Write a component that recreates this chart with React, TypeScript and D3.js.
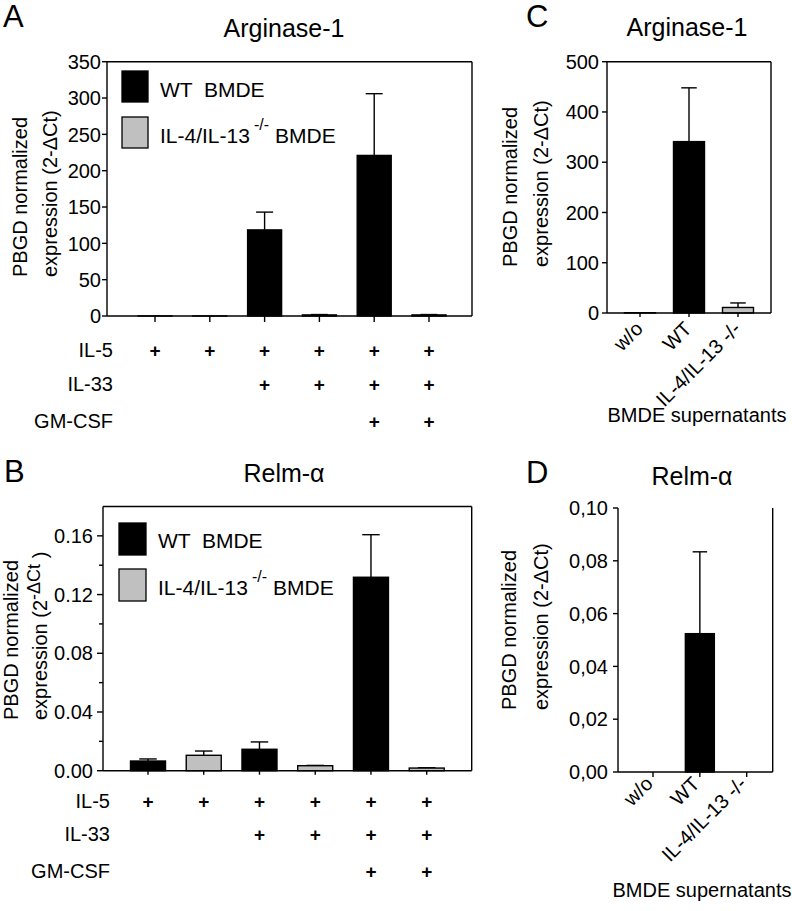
import React from "react";
import * as d3 from "d3";

const FONT = "'Liberation Sans', Arial, Helvetica, sans-serif";

// ---------- data ----------
const stimulusRows = ["IL-5", "IL-33", "GM-CSF"];
const stimulusPresence = [
  [true, true, true, true, true, true],
  [false, false, true, true, true, true],
  [false, false, false, false, true, true],
];
const bmdeGenotype = ["WT", "KO", "WT", "KO", "WT", "KO"];
const conditionIds = ["c1", "c2", "c3", "c4", "c5", "c6"];

const arginaseMeans = [0.1, 0.1, 118.5, 1.5, 221, 1.5];
const arginaseErrors = [0, 0, 24.5, 0.5, 85, 0.5];
const arginaseTicks = [0, 50, 100, 150, 200, 250, 300, 350];

const relmMeans = [0.0066, 0.0105, 0.0146, 0.0034, 0.1318, 0.0018];
const relmErrors = [0.0014, 0.0029, 0.005, 0.0002, 0.029, 0.0002];
const relmMajorTicks = [0, 0.04, 0.08, 0.12, 0.16];
const relmMinorTicks = [0.02, 0.06, 0.1, 0.14];

const supernatantCategories = ["w/o", "WT", "IL-4/IL-13 -/-"];
const supernatantGenotype = ["none", "WT", "KO"];
const supArginaseMeans = [0.5, 341, 11];
const supArginaseErrors = [0, 107, 9];
const supArginaseTicks = [0, 100, 200, 300, 400, 500];

const supRelmMeans = [0, 0.0524, 0];
const supRelmErrors = [0, 0.031, 0];
const supRelmTicks = [0, 0.02, 0.04, 0.06, 0.08, 0.1];

const legendWT = "WT  BMDE";
const legendKO = "IL-4/IL-13";

const fillFor = (g: string) => (g === "KO" ? "#c0c0c0" : "#000000");

const FS = 20;

type PanelProps = {
  x0: number; x1: number; yTop: number; yBottom: number;
  yMax: number; ticks: number[]; minorTicks?: number[];
  fmt: (v: number) => string; tickLen: number; labelGap: number;
  cats: string[]; means: number[]; errors: number[]; genotypes: string[];
  padL: number; padR: number; barWidth: number; xTickLen: number;
  topLine: boolean; rightLine: boolean;
};

function Panel(p: PanelProps) {
  const y = d3.scaleLinear().domain([0, p.yMax]).range([p.yBottom, p.yTop]);
  const x = d3.scalePoint<string>().domain(p.cats).range([p.x0 + p.padL, p.x1 - p.padR]);
  const sw = 1.4;
  return (
    <g>
      {p.cats.map((c, i) => {
        const cx = x(c)!;
        const top = y(p.means[i]);
        const errTop = y(p.means[i] + p.errors[i]);
        const cap = p.barWidth / 2;
        return (
          <g key={c}>
            {p.errors[i] > 0 && (
              <g stroke="#000" strokeWidth={sw}>
                <line x1={cx} x2={cx} y1={top} y2={errTop} />
                <line x1={cx - cap / 2} x2={cx + cap / 2} y1={errTop} y2={errTop} />
              </g>
            )}
            {p.means[i] > 0.0001 * p.yMax && (
              <rect x={cx - p.barWidth / 2} y={top} width={p.barWidth}
                height={Math.max(0, p.yBottom - top)} fill={fillFor(p.genotypes[i])}
                stroke="#000" strokeWidth={sw} />
            )}
            <line x1={cx} x2={cx} y1={p.yBottom} y2={p.yBottom + p.xTickLen} stroke="#000" strokeWidth={sw} />
          </g>
        );
      })}
      <line x1={p.x0} x2={p.x0} y1={p.yTop} y2={p.yBottom} stroke="#000" strokeWidth={sw} />
      <line x1={p.x0} x2={p.x1} y1={p.yBottom} y2={p.yBottom} stroke="#000" strokeWidth={sw} />
      {p.topLine && <line x1={p.x0} x2={p.x1} y1={p.yTop} y2={p.yTop} stroke="#000" strokeWidth={sw} />}
      {p.rightLine && <line x1={p.x1} x2={p.x1} y1={p.yTop} y2={p.yBottom} stroke="#000" strokeWidth={sw} />}
      {p.ticks.map((t) => (
        <g key={"t" + t}>
          <line x1={p.x0 - p.tickLen} x2={p.x0} y1={y(t)} y2={y(t)} stroke="#000" strokeWidth={sw} />
          <text x={p.x0 - p.labelGap} y={y(t)} dy="0.36em" textAnchor="end" fontSize={FS}>
            {p.fmt(t)}
          </text>
        </g>
      ))}
      {(p.minorTicks || []).map((t) => (
        <line key={"m" + t} x1={p.x0 - p.tickLen + 2} x2={p.x0} y1={y(t)} y2={y(t)} stroke="#000" strokeWidth={sw} />
      ))}
    </g>
  );
}

function YLabel({ x1, x2, yStart, sup }: { x1: number; x2: number; yStart: number; sup: boolean }) {
  return (
    <g fontSize={FS}>
      <text transform={`translate(${x1},${yStart}) rotate(-90)`}>PBGD normalized</text>
      <text transform={`translate(${x2},${yStart}) rotate(-90)`}>
        {sup ? (
          <>
            expression (2<tspan dy={-7} fontSize={18}>-ΔCt</tspan>
            <tspan dy={7}> )</tspan>
          </>
        ) : (
          "expression (2-ΔCt)"
        )}
      </text>
    </g>
  );
}

function Legend({ x, y1, y2, w, h, tx, b1, b2 }: any) {
  return (
    <g>
      <rect x={x} y={y1} width={w} height={h} fill={fillFor("WT")} stroke="#000" strokeWidth={1.3} />
      <rect x={x} y={y2} width={w} height={h} fill={fillFor("KO")} stroke="#000" strokeWidth={1.3} />
      <text x={tx} y={b1} fontSize={21} style={{ whiteSpace: "pre" }}>{legendWT}</text>
      <text x={tx} y={b2} fontSize={21} style={{ whiteSpace: "pre" }}>
        {legendKO}
        <tspan dx={4} dy={-13} fontSize={16}>-/-</tspan>
        <tspan dx={6} dy={13}>BMDE</tspan>
      </text>
    </g>
  );
}

function StimRows({ x0, x1, padL, padR, baselines, labelX }: any) {
  const x = d3.scalePoint<string>().domain(conditionIds).range([x0 + padL, x1 - padR]);
  return (
    <g>
      {stimulusRows.map((r, ri) => (
        <g key={r}>
          <text x={labelX} y={baselines[ri]} textAnchor="end" fontSize={FS}>{r}</text>
          {conditionIds.map((c, ci) =>
            stimulusPresence[ri][ci] ? (
              <text key={c} x={x(c)} y={baselines[ri] - 7} dy="0.35em" textAnchor="middle"
                fontSize={19} fontWeight="bold">+</text>
            ) : null
          )}
        </g>
      ))}
    </g>
  );
}

function SupXLabels({ x0, x1, padL, padR, axisY, centerX, titleY, dx, dy }: any) {
  const x = d3.scalePoint<string>().domain(supernatantCategories).range([x0 + padL, x1 - padR]);
  return (
    <g fontSize={FS}>
      {supernatantCategories.map((c) => (
        <text key={c} transform={`translate(${x(c)! + dx},${axisY + dy}) rotate(-45)`} textAnchor="end">{c}</text>
      ))}
      <text x={centerX} y={titleY} textAnchor="middle">BMDE supernatants</text>
    </g>
  );
}

export default function App() {
  const fmtInt = (v: number) => d3.format("d")(v);
  const fmt2 = (v: number) => d3.format(".2f")(v);
  const fmtComma = (v: number) => d3.format(".2f")(v).replace(".", ",");
  return (
    <svg width={792} height={911} style={{ position: "absolute", left: 0, top: 0, background: "#fff" }}
      fontFamily={FONT}>
      <rect width={792} height={911} fill="#fff" />
      <g fontSize={31}>
        <text x={3} y={27}>A</text>
        <text x={4} y={482}>B</text>
        <text x={526} y={27}>C</text>
        <text x={526} y={483}>D</text>
      </g>
      <g fontSize={25} textAnchor="middle">
        <text x={284} y={37}>Arginase-1</text>
        <text x={284} y={482}>Relm-α</text>
        <text x={687} y={36}>Arginase-1</text>
        <text x={692} y={485}>Relm-α</text>
      </g>

      {/* Panel A */}
      <Panel x0={107} x1={472} yTop={61.7} yBottom={316} yMax={350} ticks={arginaseTicks}
        fmt={fmtInt} tickLen={5} labelGap={6} cats={conditionIds} means={arginaseMeans}
        errors={arginaseErrors} genotypes={bmdeGenotype} padL={48} padR={43} barWidth={34}
        xTickLen={6} topLine={true} rightLine={true} />
      <YLabel x1={27} x2={57} yStart={277} sup={false} />
      <Legend x={122} y1={71} y2={117} w={26} h={31} tx={160} b1={97} b2={143} />
      <StimRows x0={107} x1={472} padL={48} padR={43} baselines={[357, 391, 428]} labelX={113} />

      {/* Panel B */}
      <Panel x0={103} x1={471.7} yTop={506.5} yBottom={770.7} yMax={0.18} ticks={relmMajorTicks}
        minorTicks={relmMinorTicks} fmt={fmt2} tickLen={6} labelGap={10} cats={conditionIds}
        means={relmMeans} errors={relmErrors} genotypes={bmdeGenotype} padL={45} padR={45}
        barWidth={35} xTickLen={4} topLine={true} rightLine={true} />
      <YLabel x1={18} x2={47} yStart={720} sup={true} />
      <Legend x={119} y1={523} y2={569} w={27} h={32} tx={158} b1={548} b2={595} />
      <StimRows x0={103} x1={471.7} padL={45} padR={45} baselines={[808, 841, 878]} labelX={110} />

      {/* Panel C */}
      <Panel x0={607} x1={771} yTop={61.7} yBottom={313} yMax={500} ticks={supArginaseTicks}
        fmt={fmtInt} tickLen={5} labelGap={8} cats={supernatantCategories} means={supArginaseMeans}
        errors={supArginaseErrors} genotypes={supernatantGenotype} padL={33} padR={33}
        barWidth={31} xTickLen={4} topLine={true} rightLine={true} />
      <YLabel x1={517} x2={548} yStart={267} sup={false} />
      <SupXLabels x0={607} x1={771} padL={33} padR={33} axisY={313} centerX={697} titleY={422} dx={4} dy={17} />

      {/* Panel D */}
      <Panel x0={618} x1={772.7} yTop={508} yBottom={772} yMax={0.1} ticks={supRelmTicks}
        fmt={fmtComma} tickLen={5} labelGap={10} cats={supernatantCategories} means={supRelmMeans}
        errors={supRelmErrors} genotypes={supernatantGenotype} padL={35} padR={26}
        barWidth={29} xTickLen={5} topLine={false} rightLine={true} />
      <YLabel x1={516} x2={548} yStart={710} sup={false} />
      <SupXLabels x0={618} x1={772.7} padL={35} padR={26} axisY={772} centerX={702} titleY={897} dx={1} dy={13} />
    </svg>
  );
}
